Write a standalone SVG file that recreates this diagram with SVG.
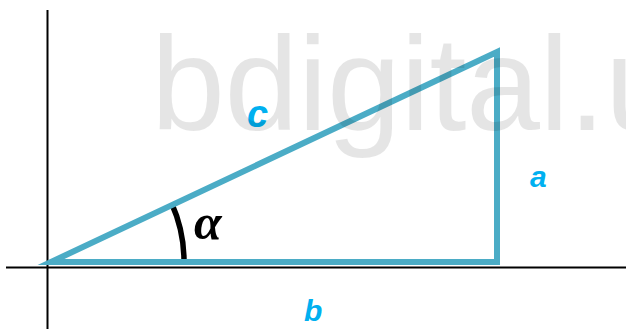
<svg xmlns="http://www.w3.org/2000/svg" width="626" height="329" viewBox="0 0 626 329">
<style>
.axis{stroke:#000;stroke-width:2;fill:none}
.tri{stroke:#4BACC6;stroke-width:6;fill:none;stroke-linejoin:miter;stroke-miterlimit:20}
.lbl{font-family:"Liberation Sans",Arial,sans-serif;font-weight:bold;font-style:italic;fill:#00B0F0}
.wm{font-family:"Liberation Sans",Arial,sans-serif;fill:#000;fill-opacity:0.1}
</style>
<rect width="626" height="329" fill="#fff"/>
<g id="axes">
<line class="axis" x1="47.5" y1="10" x2="47.5" y2="329"/>
<line class="axis" x1="6" y1="267.5" x2="626" y2="267.5"/>
</g>
<g id="angle-arc">
<path d="M184,262 A142,142 0 0 0 171.5,203" fill="none" stroke="#000" stroke-width="5.5"/>
</g>
<g id="triangle">
<path class="tri" d="M51,262 L497,262 L497,52 Z"/>
</g>
<g id="labels">
<text class="lbl" x="247" y="127" font-size="38">c</text>
<text class="lbl" x="530" y="187" font-size="30">a</text>
<text class="lbl" x="304" y="321" font-size="30">b</text>
<text x="194" y="239" font-family="'Liberation Serif','Times New Roman',serif" font-weight="bold" font-style="italic" font-size="50" fill="#000">α</text>
</g>
<text class="wm" x="151" y="130" font-size="133" letter-spacing="-0.5">bdigital.u</text>
</svg>
